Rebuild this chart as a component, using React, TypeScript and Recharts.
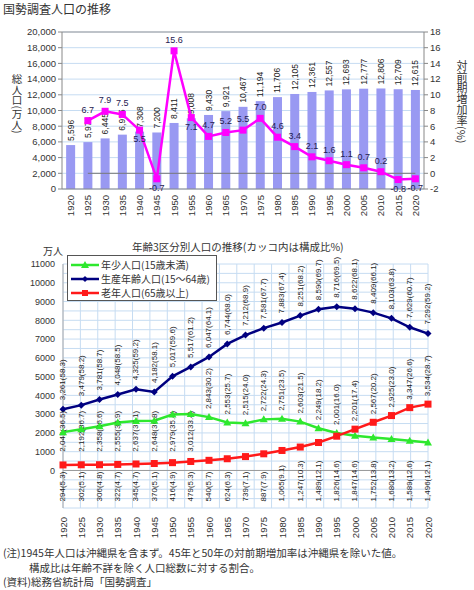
import React from "react";
import {
  ComposedChart,
  LineChart,
  Bar,
  Line,
  XAxis,
  YAxis,
  CartesianGrid,
  ReferenceLine,
} from "recharts";

const years = [
  "1920", "1925", "1930", "1935", "1940", "1945", "1950", "1955", "1960", "1965", "1970",
  "1975", "1980", "1985", "1990", "1995", "2000", "2005", "2010", "2015", "2020",
];

// 総人口(万人) and 対前期増加率(%)
const totalPopulation = [
  5596, 5974, 6445, 6925, 7308, 7200, 8411, 9008, 9430, 9921, 10467,
  11194, 11706, 12105, 12361, 12557, 12693, 12777, 12806, 12709, 12615,
];
const growthRate = [
  null, 6.7, 7.9, 7.5, 5.5, -0.7, 15.6, 7.1, 4.7, 5.2, 5.5,
  7.0, 4.6, 3.4, 2.1, 1.6, 1.1, 0.7, 0.2, -0.8, -0.7,
];

// 年齢3区分別人口(万人) and 構成比(%)
const youngPopulation = [
  2042, 2192, 2358, 2555, 2637, 2648, 2979, 3012, 2843, 2553, 2515,
  2722, 2751, 2603, 2249, 2001, 1847, 1752, 1680, 1589, 1496,
];
const youngShare = [
  36.5, 36.7, 36.6, 36.9, 36.1, 36.8, 35.4, 33.4, 30.2, 25.7, 24.0,
  24.3, 23.5, 21.5, 18.2, 16.0, 14.6, 13.8, 13.2, 12.6, 12.1,
];
const workingPopulation = [
  3261, 3479, 3781, 4048, 4325, 4182, 5017, 5517, 6047, 6744, 7212,
  7581, 7883, 8251, 8590, 8716, 8622, 8409, 8103, 7629, 7292,
];
const workingShare = [
  58.3, 58.2, 58.7, 58.5, 59.2, 58.1, 59.6, 61.2, 64.1, 68.0, 68.9,
  67.7, 67.4, 68.2, 69.7, 69.5, 68.1, 66.1, 63.8, 60.7, 59.2,
];
const elderlyPopulation = [
  294, 302, 306, 322, 345, 370, 416, 479, 540, 624, 739,
  887, 1065, 1247, 1489, 1826, 2201, 2567, 2925, 3347, 3534,
];
const elderlyShare = [
  5.3, 5.1, 4.8, 4.7, 4.7, 5.1, 4.9, 5.3, 5.7, 6.3, 7.1,
  7.9, 9.1, 10.3, 12.1, 14.6, 17.4, 20.2, 23.0, 26.6, 28.7,
];

const popTicks = [0, 2000, 4000, 6000, 8000, 10000, 12000, 14000, 16000, 18000, 20000];
const rateTicks = [-2, 0, 2, 4, 6, 8, 10, 12, 14, 16, 18];
const ageTicks = [-2000, -1000, 0, 1000, 2000, 3000, 4000, 5000, 6000, 7000, 8000, 9000, 10000, 11000];

const popData = years.map((year, i) => ({
  year,
  total: totalPopulation[i],
  rate: growthRate[i],
}));

const ageData = years.map((year, i) => ({
  year,
  young: youngPopulation[i],
  youngShare: youngShare[i],
  working: workingPopulation[i],
  workingShare: workingShare[i],
  elderly: elderlyPopulation[i],
  elderlyShare: elderlyShare[i],
}));

const NUM_FONT = "'Liberation Sans', 'Noto Sans CJK JP', sans-serif";
const JP_FONT = "'Noto Sans CJK JP', sans-serif";
const TEXT = "#333";
const GRID = "#c6dcf2";
const BAR_COLOR = "#9999f2";
const RATE_COLOR = "#ff00ff";
const YOUNG_COLOR = "#2ee82e";
const WORKING_COLOR = "#000080";
const ELDERLY_COLOR = "#ff1a1a";

const W = 474;
const CHART1_H = 200;
const CHART2_H = 292;
const CHART2_MARGIN = { top: 8, right: 46, bottom: 0, left: 0 };
const Y2_WIDTH = 63;
const X2_HEIGHT = 40;
const PLOT2_W = W - CHART2_MARGIN.left - CHART2_MARGIN.right - Y2_WIDTH;
const PLOT2_H = CHART2_H - CHART2_MARGIN.top - CHART2_MARGIN.bottom - X2_HEIGHT;
const AGE_MIN = -2000;
const AGE_MAX = 11000;
const PX2 = PLOT2_H / (AGE_MAX - AGE_MIN);

// label rows used in the lower part of the age chart
const BOTTOM_ROW = -1650;
const LOW_ROW = 1000;
const RATE_LABELS_BELOW = ["1940", "1945", "1955", "2015", "2020"];

const fmt = (n: number) => n.toLocaleString("en-US");

function vText(x: number, y: number, text: string, size = 8) {
  return (
    <text
      x={x}
      y={y}
      transform={`rotate(-90 ${x} ${y})`}
      textAnchor="start"
      dominantBaseline="central"
      fontSize={size}
      fill="#222"
      fontFamily={NUM_FONT}
    >
      {text}
    </text>
  );
}

function YearTick(props: any) {
  const { x, y, payload, gap } = props;
  const ty = y + (gap ?? 0);
  return (
    <text
      x={x}
      y={ty}
      transform={`rotate(-90 ${x} ${ty})`}
      textAnchor="end"
      dominantBaseline="central"
      fontSize={9.5}
      fill={TEXT}
      fontFamily={NUM_FONT}
    >
      {payload.value}
    </text>
  );
}

function PopBar(props: any) {
  const { x, y, width, height, payload } = props;
  if (x == null) return null;
  return (
    <g>
      <rect x={x} y={y} width={width} height={height} fill={BAR_COLOR} />
      {vText(x + width / 2, y - 4, fmt(payload.total), 8.5)}
    </g>
  );
}

function RateDot(props: any) {
  const { cx, cy, index, payload } = props;
  if (cx == null || cy == null || payload.rate == null) return <g key={`rd${index}`} />;
  const below = RATE_LABELS_BELOW.includes(payload.year);
  return (
    <g key={`rd${index}`}>
      <rect x={cx - 3.5} y={cy - 3.5} width={7} height={7} fill={RATE_COLOR} />
      <text
        x={cx}
        y={below ? cy + 12 : cy - 8}
        textAnchor="middle"
        fontSize={9}
        fill="#1e2050"
        fontFamily={NUM_FONT}
      >
        {payload.rate.toFixed(1)}
      </text>
    </g>
  );
}

// start (lower end) of a rotated share label for young / elderly
function shareLabelY(cy: number, value: number, other: number, working: number, text: string) {
  if (value < other) return cy + (value - BOTTOM_ROW) * PX2;
  const len = text.length * 3.9;
  const gap = (working - value) * PX2;
  if (gap < len + 16) return cy + (value - LOW_ROW) * PX2;
  return cy - 8;
}

function makeAgeDot(kind: "young" | "working" | "elderly") {
  return (props: any) => {
    const { cx, cy, index, payload } = props;
    if (cx == null || cy == null) return <g key={`${kind}${index}`} />;
    let marker;
    let label;
    if (kind === "working") {
      marker = (
        <polygon
          points={`${cx},${cy - 3.5} ${cx + 3.5},${cy} ${cx},${cy + 3.5} ${cx - 3.5},${cy}`}
          fill={WORKING_COLOR}
        />
      );
      label = vText(cx, cy - 9, `${fmt(payload.working)}(${payload.workingShare.toFixed(1)})`);
    } else if (kind === "young") {
      marker = (
        <polygon
          points={`${cx},${cy - 4} ${cx + 4},${cy + 3} ${cx - 4},${cy + 3}`}
          fill={YOUNG_COLOR}
        />
      );
      const text = `${fmt(payload.young)}(${payload.youngShare.toFixed(1)})`;
      label = vText(cx, shareLabelY(cy, payload.young, payload.elderly, payload.working, text), text);
    } else {
      marker = <rect x={cx - 3.5} y={cy - 3.5} width={7} height={7} fill={ELDERLY_COLOR} />;
      const text = `${fmt(payload.elderly)}(${payload.elderlyShare.toFixed(1)})`;
      label = vText(cx, shareLabelY(cy, payload.elderly, payload.young, payload.working, text), text);
    }
    return (
      <g key={`${kind}${index}`}>
        {label}
        {marker}
      </g>
    );
  };
}

const legendItems = [
  { name: "年少人口(15歳未満)", color: YOUNG_COLOR, kind: "young" },
  { name: "生産年齢人口(15～64歳)", color: WORKING_COLOR, kind: "working" },
  { name: "老年人口(65歳以上)", color: ELDERLY_COLOR, kind: "elderly" },
];

function LegendIcon({ kind, color }: { kind: string; color: string }) {
  return (
    <svg width={30} height={10} style={{ display: "block" }}>
      <line x1={1} y1={5} x2={29} y2={5} stroke={color} strokeWidth={2.5} />
      {kind === "young" && <polygon points="15,1 19,8 11,8" fill={color} />}
      {kind === "working" && <polygon points="15,2 18,5 15,8 12,5" fill={color} />}
      {kind === "elderly" && <rect x={12} y={2} width={6} height={6} fill={color} />}
    </svg>
  );
}

export default function App() {
  const gridX = years.map((_, i) => Y2_WIDTH + (i * PLOT2_W) / years.length).concat(Y2_WIDTH + PLOT2_W);
  const gridY: number[] = [];
  for (let v = AGE_MIN; v <= AGE_MAX; v += 500) {
    gridY.push(CHART2_MARGIN.top + (AGE_MAX - v) * PX2);
  }

  return (
    <div
      style={{
        position: "absolute",
        left: 0,
        top: 0,
        width: W,
        height: 590,
        background: "#fff",
        color: TEXT,
        fontFamily: JP_FONT,
        overflow: "hidden",
      }}
    >
      <div style={{ position: "absolute", left: 3, top: 1, fontSize: 12, lineHeight: "16px" }}>
        国勢調査人口の推移
      </div>

      <div style={{ position: "absolute", left: 0, top: 24 }}>
        <ComposedChart
          width={W}
          height={CHART1_H}
          data={popData}
          margin={{ top: 8, right: 0, bottom: 0, left: 0 }}
          barCategoryGap="24%"
        >
          <CartesianGrid vertical={false} stroke={GRID} />
          <XAxis
            dataKey="year"
            height={35}
            interval={0}
            tickLine={false}
            axisLine={{ stroke: "#888" }}
            tick={<YearTick gap={-2} />}
          />
          <YAxis
            domain={[0, 20000]}
            ticks={popTicks}
            interval={0}
            width={62}
            tickSize={4}
            tickFormatter={(v: number) => fmt(v)}
            tick={{ fontSize: 9.5, fill: TEXT, fontFamily: NUM_FONT }}
            axisLine={{ stroke: "#888" }}
            tickLine={{ stroke: "#888" }}
          />
          <YAxis
            yAxisId="rate"
            orientation="right"
            domain={[-2, 18]}
            ticks={rateTicks}
            interval={0}
            width={50}
            tickSize={4}
            tick={{ fontSize: 9.5, fill: TEXT, fontFamily: NUM_FONT }}
            axisLine={{ stroke: "#888" }}
            tickLine={{ stroke: "#888" }}
          />
          <ReferenceLine y={20000} stroke="#999" />
          <Bar dataKey="total" shape={<PopBar />} isAnimationActive={false} />
          <ReferenceLine
            yAxisId="rate"
            segment={[
              { x: years[1], y: 0 },
              { x: years[years.length - 1], y: 0 },
            ]}
            stroke="#777"
            strokeWidth={1}
          />
          <Line
            yAxisId="rate"
            dataKey="rate"
            stroke={RATE_COLOR}
            strokeWidth={2.5}
            dot={RateDot}
            activeDot={false}
            isAnimationActive={false}
          />
        </ComposedChart>
      </div>

      <div
        style={{
          position: "absolute",
          left: 11,
          top: 74,
          writingMode: "vertical-rl",
          fontSize: 10.5,
          lineHeight: 1,
        }}
      >
        総人口(万人)
      </div>
      <div
        style={{
          position: "absolute",
          left: 456,
          top: 60,
          writingMode: "vertical-rl",
          fontSize: 11,
          lineHeight: 1,
        }}
      >
        対前期増加率(%)
      </div>

      <div style={{ position: "absolute", left: 132, top: 240, fontSize: 10.5, lineHeight: "14px" }}>
        年齢3区分別人口の推移(カッコ内は構成比%)
      </div>
      <div style={{ position: "absolute", left: 43, top: 244, fontSize: 10, lineHeight: "13px" }}>
        万人
      </div>

      <div style={{ position: "absolute", left: 0, top: 256 }}>
        <LineChart width={W} height={CHART2_H} data={ageData} margin={CHART2_MARGIN}>
          <CartesianGrid
            stroke={GRID}
            horizontalPoints={gridY}
            verticalPoints={gridX}
          />
          <XAxis
            dataKey="year"
            height={X2_HEIGHT}
            interval={0}
            tickLine={false}
            axisLine={false}
            tick={<YearTick gap={1} />}
          />
          <YAxis
            domain={[AGE_MIN, AGE_MAX]}
            ticks={ageTicks}
            interval={0}
            width={Y2_WIDTH}
            tickLine={false}
            tickFormatter={(v: number) => (v < 0 ? "" : String(v))}
            tick={{ fontSize: 9, fill: TEXT, fontFamily: NUM_FONT }}
            axisLine={{ stroke: "#aaa" }}
          />
          <ReferenceLine y={0} stroke="#999" />
          <Line
            dataKey="working"
            stroke={WORKING_COLOR}
            strokeWidth={2.5}
            dot={makeAgeDot("working")}
            activeDot={false}
            isAnimationActive={false}
          />
          <Line
            dataKey="young"
            stroke={YOUNG_COLOR}
            strokeWidth={2.5}
            dot={makeAgeDot("young")}
            activeDot={false}
            isAnimationActive={false}
          />
          <Line
            dataKey="elderly"
            stroke={ELDERLY_COLOR}
            strokeWidth={2.5}
            dot={makeAgeDot("elderly")}
            activeDot={false}
            isAnimationActive={false}
          />
        </LineChart>
      </div>

      <div
        style={{
          position: "absolute",
          left: 67,
          top: 255,
          width: 150,
          height: 46,
          border: "1px solid #555",
          background: "#fff",
          padding: "2px 0 0 2px",
          boxSizing: "border-box",
        }}
      >
        {legendItems.map((item) => (
          <div
            key={item.name}
            style={{ display: "flex", alignItems: "center", height: 14, fontSize: 10, lineHeight: "14px" }}
          >
            <LegendIcon kind={item.kind} color={item.color} />
            <span style={{ marginLeft: 1 }}>{item.name}</span>
          </div>
        ))}
      </div>

      <div style={{ position: "absolute", left: 3, top: 546, fontSize: 10.5, lineHeight: "14.5px" }}>
        <div>(注)1945年人口は沖縄県を含まず。45年と50年の対前期増加率は沖縄県を除いた値。</div>
        <div style={{ paddingLeft: 26 }}>構成比は年齢不詳を除く人口総数に対する割合。</div>
        <div>(資料)総務省統計局「国勢調査」</div>
      </div>
    </div>
  );
}
